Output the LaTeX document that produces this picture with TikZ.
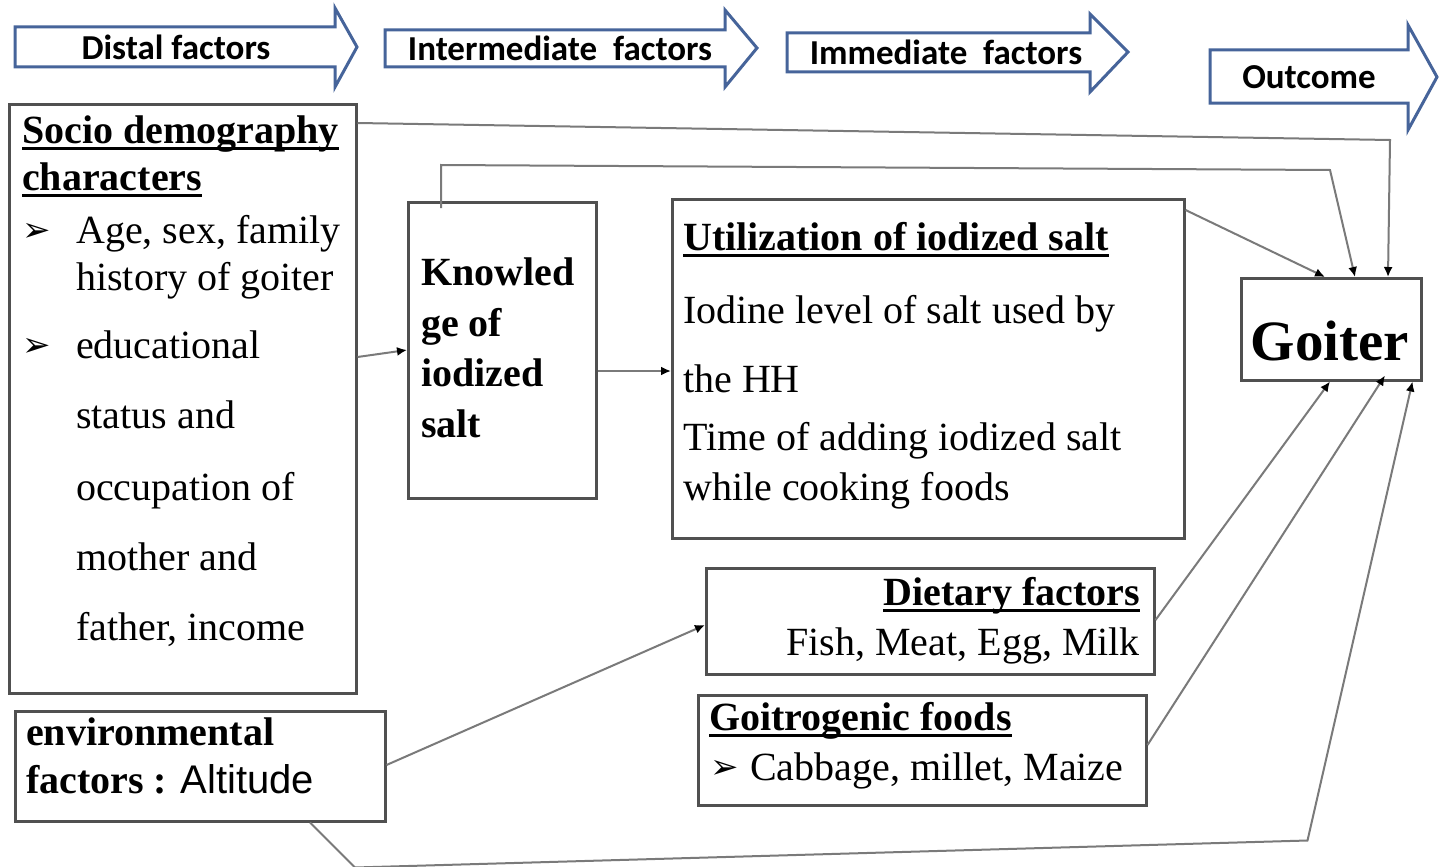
\documentclass[tikz,border=0pt]{standalone}
\usepackage{fontspec}
\setmainfont{Liberation Serif}
\newfontfamily\arialf{Liberation Sans}
\newfontfamily\calibf{Carlito}
\newfontfamily\dejavuf{DejaVu Sans}
\usetikzlibrary{arrows.meta,calc}
\definecolor{arrowblue}{HTML}{46649A}
\definecolor{boxgray}{HTML}{505050}
\definecolor{conngray}{HTML}{7A7A7A}
\newcommand{\myul}[1]{\setbox0\hbox{#1}\rlap{\rule[-7pt]{\wd0}{3pt}}\box0}
\newcommand{\mybul}{{\dejavuf\bfseries\fontsize{34}{34}\selectfont ➢}}
\begin{document}
\begin{tikzpicture}[x=1pt,y=-1pt,
  box/.style={draw=boxgray,line width=2.5pt,fill=white,anchor=north west,inner sep=0pt},
  blockarrow/.style={draw=arrowblue,line width=3pt,fill=white,line join=miter},
  toplabel/.style={font=\calibf\bfseries\fontsize{35}{35}\selectfont,inner sep=0pt},
  txt/.style={font=\fontsize{40}{40}\selectfont,inner sep=0pt,anchor=base west},
  btxt/.style={font=\bfseries\fontsize{40}{40}\selectfont,inner sep=0pt,anchor=base west},
  conn/.style={draw=conngray,line width=2pt,-{Latex[length=10pt,width=9pt,black]}}]
\useasboundingbox (0,0) rectangle (1440,867);
\fill[white] (0,0) rectangle (1440,867);

% top block arrows
\draw[blockarrow] (15,27) -- (335,27) -- (335,8) -- (357,47) -- (335,87) -- (335,67) -- (15,67) -- cycle;
\node[toplabel] (ta1) at (176,47) {Distal factors};
\draw[blockarrow] (385,30) -- (725,30) -- (725,10) -- (757,48) -- (725,87) -- (725,67) -- (385,67) -- cycle;
\node[toplabel] (ta2) at (560,48) {Intermediate\ \ factors};
\draw[blockarrow] (787,33) -- (1090,33) -- (1090,14) -- (1128,52) -- (1090,92) -- (1090,72) -- (787,72) -- cycle;
\node[toplabel] (ta3) at (946,52) {Immediate\ \ factors};
\draw[blockarrow] (1210,50) -- (1408,50) -- (1408,25) -- (1437,77) -- (1408,130) -- (1408,103) -- (1210,103) -- cycle;
\node[toplabel] (ta4) at (1309,77) {Outcome};

% boxes
\node[box,minimum width=347pt,minimum height=589pt] (socio) at (8,103) {};
\node[box,minimum width=188pt,minimum height=296pt] (know) at (407,201) {};
\node[box,minimum width=512pt,minimum height=339pt] (util) at (671,198) {};
\node[box,minimum width=180pt,minimum height=102pt] (goiter) at (1240,277) {};
\node[box,minimum width=448pt,minimum height=106pt] (diet) at (705,567) {};
\node[box,minimum width=448pt,minimum height=110pt] (goitro) at (697,694) {};
\node[box,minimum width=370pt,minimum height=110pt] (env) at (14,710) {};

% socio text
\node[btxt] (s1) at (22,143) {\myul{Socio demography}};
\node[btxt] (s2) at (22,190) {\myul{characters}};
\node[inner sep=0pt,anchor=base west] (s3b) at (22,241) {\mybul};
\node[txt] (s3) at (76,243) {Age, sex, family};
\node[txt] (s4) at (76,290) {history of goiter};
\node[inner sep=0pt,anchor=base west] (s5b) at (22,356) {\mybul};
\node[txt] (s5) at (76,358) {educational};
\node[txt] (s6) at (76,428) {status and};
\node[txt] (s7) at (76,500) {occupation of};
\node[txt] (s8) at (76,570) {mother and};
\node[txt] (s9) at (76,640) {father, income};

% knowledge text
\node[btxt] (k1) at (421,285) {Knowled};
\node[btxt] (k2) at (421,336) {ge of};
\node[btxt] (k3) at (421,386) {iodized};
\node[btxt] (k4) at (421,437) {salt};

% utilization text
\node[btxt] (u1) at (683,250) {\myul{Utilization of iodized salt}};
\node[txt] (u2) at (683,323) {Iodine level of salt used by};
\node[txt] (u3) at (683,392) {the HH};
\node[txt] (u4) at (683,450) {Time of adding iodized salt};
\node[txt] (u5) at (683,500) {while cooking foods};

% goiter
\node[font=\bfseries\fontsize{57}{57}\selectfont,inner sep=0pt,anchor=base] (g1) at (1330,360) {Goiter};

% dietary
\node[btxt,anchor=base east] (d1) at (1140,605) {\myul{Dietary factors}};
\node[txt,anchor=base east] (d2) at (1140,655) {Fish, Meat, Egg, Milk};

% goitrogenic
\node[btxt] (f1) at (709,730) {\myul{Goitrogenic foods}};
\node[inner sep=0pt,anchor=base west] (f2b) at (710,778) {\mybul};
\node[txt] (f2) at (750,780) {Cabbage, millet, Maize};

% environmental
\node[btxt] (e1) at (26,745) {environmental};
\node[btxt] (e2) at (26,793) {factors : {\arialf\mdseries Altitude}};

% connectors
\draw[conn] ($(socio.north east)+(0,20)$) -- ($(goiter.north west)+(150,-137)$) -- ($(goiter.north west)+(148,0)$);
\draw[conn] ($(know.north west)+(34,7)$) -- ($(know.north west)+(34,-36)$) -- ($(goiter.north west)+(90,-107)$) -- ($(goiter.north west)+(115,0)$);
\draw[conn] ($(util.north east)+(0,12)$) -- ($(goiter.north west)+(85,0)$);
\draw[conn] ($(socio.north east)+(0,254)$) -- ($(know.north west)+(0,149)$);
\draw[conn] ($(know.north east)+(0,170)$) -- ($(util.north west)+(0,173)$);
\draw[conn] ($(diet.north east)+(0,53)$) -- ($(goiter.south west)+(90,0)$);
\draw[conn] ($(goitro.north east)+(0,51)$) -- ($(goiter.south west)+(145,-6)$);
\draw[conn] ($(env.north east)+(0,55)$) -- ($(diet.north west)+(0,58)$);
\draw[conn] ($(env.south west)+(296,0)$) -- ($(env.south west)+(341,45)$) -- ($(goiter.south east)+(-115,459)$) -- ($(goiter.south east)+(-10,0)$);
\end{tikzpicture}
\end{document}
